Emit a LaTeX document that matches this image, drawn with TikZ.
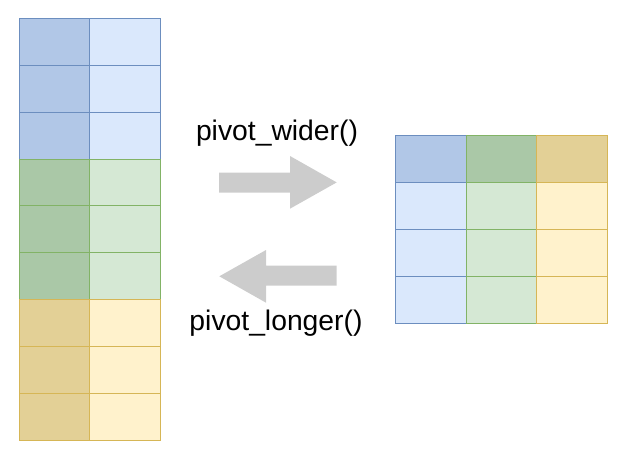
\documentclass[tikz,border=0pt]{standalone}
\usepackage{fontspec}
\setmainfont{Liberation Sans}
\definecolor{bdark}{HTML}{B1C7E7}
\definecolor{blight}{HTML}{DAE8FC}
\definecolor{bline}{HTML}{6C8EBF}
\definecolor{gdark}{HTML}{AAC8A7}
\definecolor{glight}{HTML}{D5E8D4}
\definecolor{gline}{HTML}{82B366}
\definecolor{ydark}{HTML}{E3D096}
\definecolor{ylight}{HTML}{FFF2CC}
\definecolor{yline}{HTML}{D6B656}
\definecolor{arrowgray}{HTML}{CCCCCC}
\tikzset{
  cell/.style={draw, line width=1pt, minimum width=70.6pt, minimum height=46.9pt,
    inner sep=0pt, outer sep=0pt, anchor=north west},
  bd/.style={cell, fill=bdark, draw=bline},
  bl/.style={cell, fill=blight, draw=bline},
  gd/.style={cell, fill=gdark, draw=gline},
  gl/.style={cell, fill=glight, draw=gline},
  yd/.style={cell, fill=ydark, draw=yline},
  yl/.style={cell, fill=ylight, draw=yline},
  fatarrow/.style={fill=arrowgray},
  label/.style={font=\fontsize{28.3}{32}\selectfont, anchor=base, inner sep=0pt}
}
\begin{document}
\begin{tikzpicture}[x=1pt,y=-1pt]
\useasboundingbox (0,0) rectangle (623,452);
% left long table
\foreach \r in {0,1,2} {
  \node[bd] (L\r a) at (19.3,{18.3+46.9*\r}) {};
  \node[bl] (L\r b) at (89.9,{18.3+46.9*\r}) {};
}
\foreach \r in {3,4,5} {
  \node[gd] (L\r a) at (19.3,{18.3+46.9*\r}) {};
  \node[gl] (L\r b) at (89.9,{18.3+46.9*\r}) {};
}
\foreach \r in {6,7,8} {
  \node[yd] (L\r a) at (19.3,{18.3+46.9*\r}) {};
  \node[yl] (L\r b) at (89.9,{18.3+46.9*\r}) {};
}
% right wide table
\node[bd] (R0a) at (395.5,135.7) {};
\node[gd] (R0b) at (466.0,135.7) {};
\node[yd] (R0c) at (536.5,135.7) {};
\foreach \r in {1,2,3} {
  \node[bl] (R\r a) at (395.5,{135.7+46.9*\r}) {};
  \node[gl] (R\r b) at (466.0,{135.7+46.9*\r}) {};
  \node[yl] (R\r c) at (536.5,{135.7+46.9*\r}) {};
}
% arrows
\fill[fatarrow] (219,172.7) -- (290,172.7) -- (290,156) -- (336.7,182.4) -- (290,208.7) -- (290,192.7) -- (219,192.7) -- cycle;
\fill[fatarrow] (336.7,265.7) -- (266,265.7) -- (266,250) -- (219.3,276.3) -- (266,302.7) -- (266,285.7) -- (336.7,285.7) -- cycle;
% labels
\node[label] (wider) at (277,140.5) {pivot\_wider()};
\node[label] (longer) at (276,330.5) {pivot\_longer()};
\end{tikzpicture}
\end{document}
